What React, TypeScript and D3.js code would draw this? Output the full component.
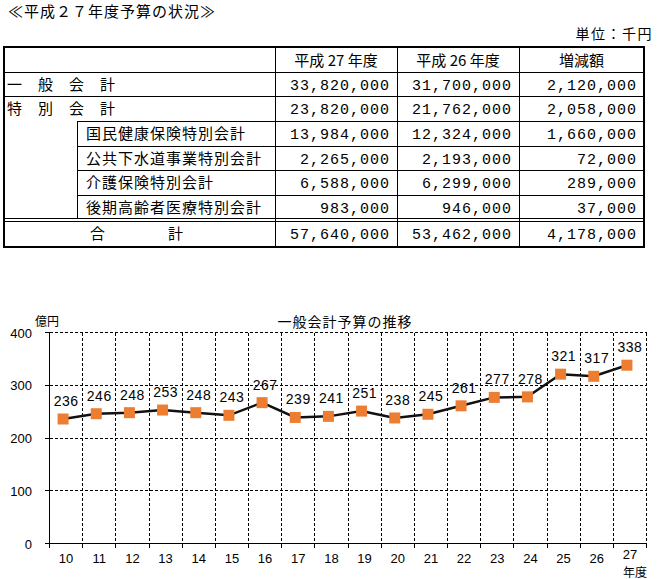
import React from "react";
import { scaleBand, scaleLinear, line } from "d3";

// table data (unit: 千円)
const rowLabels = [
  "一般会計",
  "特別会計",
  "国民健康保険特別会計",
  "公共下水道事業特別会計",
  "介護保険特別会計",
  "後期高齢者医療特別会計",
  "合計",
];
const headers = ["平成 27 年度", "平成 26 年度", "増減額"];
const fy27 = [33820000, 23820000, 13984000, 2265000, 6588000, 983000, 57640000];
const fy26 = [31700000, 21762000, 12324000, 2193000, 6299000, 946000, 53462000];
const diffs = [2120000, 2058000, 1660000, 72000, 289000, 37000, 4178000];

// chart data (億円)
const years = ["10", "11", "12", "13", "14", "15", "16", "17", "18", "19", "20", "21", "22", "23", "24", "25", "26", "27"];
const budget = [236, 246, 248, 253, 248, 243, 267, 239, 241, 251, 238, 245, 261, 277, 278, 321, 317, 338];
const yTicks = [0, 100, 200, 300, 400];

const W = 657;
const H = 579;
const jp = "'Noto Sans CJK JP', sans-serif";
const num = "'Liberation Mono', monospace";
const fmt = (v: number) => v.toLocaleString("en-US");

const App = () => {
  // table layout
  const tLeft = 4;
  const tRight = 644;
  const cols = [275, 397, 519, tRight];
  const rowTops = [48, 72, 96, 121, 146, 170, 195, 221, 246];
  const subLeft = 77;

  // chart scales
  const x = scaleBand<string>().domain(years).range([49.5, 646.5]);
  const y = scaleLinear().domain([0, 400]).range([543.5, 332.5]);
  const bw = x.bandwidth();
  const px = (i: number) => (x(years[i]) as number) + bw / 2 - 3;
  const path = line<number>()
    .x((_, i) => px(i))
    .y((d) => y(d))(budget);

  return (
    <svg width={W} height={H} style={{ position: "absolute", left: 0, top: 0, background: "#fff" }}>
      {/* title */}
      <text x={8} y={17} fontFamily={jp} fontSize={15} letterSpacing={1}>
        ≪平成２７年度予算の状況≫
      </text>
      <text x={653} y={39} fontFamily={jp} fontSize={14} textAnchor="end" letterSpacing={1.5}>
        単位：千円
      </text>

      {/* table lines */}
      <g stroke="#000" shapeRendering="crispEdges">
        <rect x={tLeft} y={47} width={tRight - tLeft} height={200} fill="none" strokeWidth={2} />
        <line x1={tLeft} x2={tRight} y1={72} y2={72} />
        <line x1={tLeft} x2={tRight} y1={96} y2={96} />
        {[121, 146, 170, 195].map((yy) => (
          <line key={yy} x1={subLeft} x2={tRight} y1={yy} y2={yy} />
        ))}
        <line x1={tLeft} x2={tRight} y1={218} y2={218} />
        <line x1={tLeft} x2={tRight} y1={221} y2={221} />
        <line x1={subLeft} x2={subLeft} y1={121} y2={218} />
        {cols.slice(0, 3).map((cx) => (
          <line key={cx} x1={cx} x2={cx} y1={48} y2={246} />
        ))}
      </g>

      {/* headers */}
      {headers.map((h, i) => (
        <text key={h} x={(cols[i] + cols[i + 1]) / 2} y={66} fontFamily={jp} fontSize={15} textAnchor="middle">
          {h}
        </text>
      ))}

      {/* row labels */}
      {rowLabels.map((label, i) => {
        const base = rowTops[i + 1] + 18;
        if (i === 0 || i === 1)
          return (
            <text key={label} x={7} y={base} fontFamily={jp} fontSize={15} letterSpacing={16}>
              {label}
            </text>
          );
        if (i === rowLabels.length - 1)
          return (
            <g key={label} fontFamily={jp} fontSize={15}>
              <text x={90} y={base}>{label[0]}</text>
              <text x={168} y={base}>{label[1]}</text>
            </g>
          );
        return (
          <text key={label} x={86} y={base} fontFamily={jp} fontSize={15} letterSpacing={1}>
            {label}
          </text>
        );
      })}

      {/* numbers */}
      {[fy27, fy26, diffs].map((arr, c) =>
        arr.map((v, i) => (
          <text
            key={c + "-" + i}
            x={cols[c + 1] - 7}
            y={rowTops[i + 1] + 18}
            fontFamily={num}
            fontSize={15}
            letterSpacing={1}
            textAnchor="end"
          >
            {fmt(v)}
          </text>
        ))
      )}

      {/* chart */}
      <text x={345} y={327} fontFamily={jp} fontSize={14} textAnchor="middle" letterSpacing={1}>
        一般会計予算の推移
      </text>
      <text x={35} y={326} fontFamily={jp} fontSize={12}>
        億円
      </text>

      <g stroke="#000" shapeRendering="crispEdges">
        {yTicks.slice(1).map((t) => (
          <line key={t} x1={49.5} x2={646.5} y1={y(t)} y2={y(t)} strokeDasharray="3,2" />
        ))}
        {years.slice(1).map((yr) => (
          <line key={yr} x1={x(yr)} x2={x(yr)} y1={332.5} y2={543.5} strokeDasharray="3,2" />
        ))}
        <line x1={646.5} x2={646.5} y1={332.5} y2={543.5} strokeDasharray="3,2" />
        <line x1={49.5} x2={49.5} y1={332.5} y2={543.5} />
        <line x1={49.5} x2={646.5} y1={543.5} y2={543.5} />
        {years.map((yr) => (
          <line key={"t" + yr} x1={x(yr)} x2={x(yr)} y1={543.5} y2={548} />
        ))}
        <line x1={646.5} x2={646.5} y1={543.5} y2={548} />
        {yTicks.map((t) => (
          <line key={"yt" + t} x1={45} x2={49.5} y1={y(t)} y2={y(t)} />
        ))}
      </g>

      {yTicks.map((t) => (
        <text key={"yl" + t} x={32} y={y(t) + 5} fontFamily="'Liberation Sans', sans-serif" fontSize={13} textAnchor="end">
          {t}
        </text>
      ))}
      {years.map((yr) => (
        <text
          key={"xl" + yr}
          x={(x(yr) as number) + bw / 2}
          y={yr === "27" ? 559 : 563}
          fontFamily="'Liberation Sans', sans-serif"
          fontSize={13}
          textAnchor="middle"
        >
          {yr}
        </text>
      ))}
      <text x={635} y={577} fontFamily={jp} fontSize={12} textAnchor="middle">
        年度
      </text>

      <path d={path || ""} fill="none" stroke="#111" strokeWidth={2.5} />
      {budget.map((v, i) => (
        <rect key={"m" + i} x={px(i) - 5.5} y={y(v) - 5.5} width={11} height={11} fill="#ED7D31" />
      ))}
      {budget.map((v, i) => (
        <text
          key={"v" + i}
          x={(x(years[i]) as number) + bw / 2}
          y={y(v) - 13}
          fontFamily="'Liberation Sans', sans-serif"
          fontSize={14}
          letterSpacing={0.5}
          textAnchor="middle"
        >
          {v}
        </text>
      ))}
    </svg>
  );
};

export default App;
